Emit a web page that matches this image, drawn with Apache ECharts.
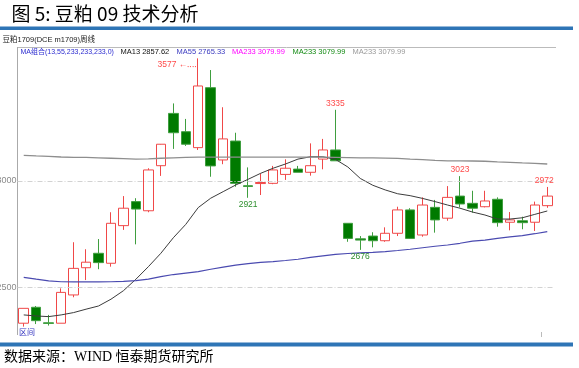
<!DOCTYPE html>
<html><head><meta charset="utf-8">
<script src="https://cdn.jsdelivr.net/npm/echarts@6/dist/echarts.min.js"></script>
<style>html,body{margin:0;padding:0;background:#fff}#c{width:579px;height:368px}</style>
</head><body><div id="c"></div>
<script>
// weekly candles: [open, close, low, high]
const opens  = [2331,2406,2333,2331,2464,2592,2660,2613,2790,2903,2860,3072,3318,3232,3157,3439,3099,3188,2978,2988,2989,3031,3056,3041,3103,3146,2801,2728,2741,2719,2754,2864,2746,2876,2825,2929,2895,2879,2914,2806,2813,2806,2884];
const closes = [2401,2343,2330,2476,2589,2618,2616,2801,2872,2868,3052,3173,3227,3173,3447,3071,3198,2989,2974,2993,3052,3060,3041,3072,3146,3095,2730,2722,2719,2754,2864,2730,2887,2817,2923,2892,2872,2906,2804,2817,2804,2887,2929];
const lows   = [2315,2327,2320,2331,2453,2534,2585,2597,2770,2702,2853,3024,3151,3165,3146,3020,3079,2973,2921,2934,2985,3005,3041,3025,3055,3095,2714,2676,2688,2714,2741,2728,2738,2757,2813,2876,2851,2876,2785,2768,2773,2765,2874];
const highs  = [2401,2412,2370,2495,2712,2679,2727,2853,2929,2919,3060,3174,3365,3292,3577,3522,3347,3227,3064,3036,3071,3102,3071,3177,3198,3335,2801,2741,2759,2782,2879,2872,2923,2911,2976,3023,2954,2954,2923,2854,2832,2903,2972];
const ma13   = [2370,2365,2362,2370,2381,2397,2412,2444,2484,2538,2597,2660,2733,2796,2875,2919,2950,2981,3008,3036,3060,3080,3103,3114,3114,3102,3066,3012,2980,2958,2940,2931,2918,2903,2887,2872,2854,2840,2821,2821,2827,2843,2859];
const ma55   = [2547,2538,2530,2526,2525,2525,2525,2526,2528,2531,2538,2550,2560,2567,2574,2585,2595,2604,2611,2617,2621,2626,2632,2641,2648,2655,2659,2662,2664,2668,2673,2679,2686,2693,2699,2707,2717,2722,2730,2737,2743,2752,2762];
const ma233  = [3121,3118,3116,3113,3111,3111,3109,3107,3105,3103,3104,3107,3109,3111,3112,3112,3112,3112,3112,3112,3112,3112,3112,3112,3112,3111,3110,3109,3109,3108,3106,3103,3101,3097,3095,3095,3094,3093,3090,3088,3085,3083,3080];
const yTickLabels = [2500, 3000];
// annotated extremes: [index, 'high'|'low']
const notes = [[14,'high'],[25,'high'],[18,'low'],[27,'low'],[35,'high'],[42,'high']];
const legendItems = [
  ['MA组合(13,55,233,233,233,0)', '#2b2bd0'],
  ['MA13 2857.62', '#111'],
  ['MA55 2765.33', '#3a3ac0'],
  ['MA233 3079.99', '#ff00ff'],
  ['MA233 3079.99', '#138a13'],
  ['MA233 3079.99', '#9a9a9a']
];
const legendX = [20.5, 120.5, 176.5, 232, 292.5, 352.5];

const cats = opens.map((_, i) => 'W' + (i + 1));
const kdata = opens.map((o, i) => [o, closes[i], lows[i], highs[i]]);

const mp = notes.map(([i, t]) => {
  const isHigh = t === 'high';
  const v = isHigh ? highs[i] : lows[i];
  const first = i === 14;
  return {
    coord: [i, v], value: v, symbol: 'circle', symbolSize: 0,
    label: {
      show: true,
      formatter: first ? v + ' ←‥‥' : String(v),
      color: isHigh ? '#ff4a4a' : '#2e8f2e',
      fontSize: 8.5, fontFamily: 'Liberation Sans',
      position: first ? 'left' : (isHigh ? 'top' : 'bottom'),
      distance: first ? 1 : 2,
      offset: first ? [0, 6] : [i === 42 ? -3 : 0, 0]
    }
  };
});

const chart = echarts.init(document.getElementById('c'), null, {renderer: 'canvas'});
const txt = (x, y, s, color, size, family, extra) => Object.assign({
  type: 'text', x: x, y: y,
  style: {text: s, fill: color, font: size + 'px ' + family, textVerticalAlign: 'middle'}
}, extra || {});

const graphics = [
  txt(11.5, 13.5, '图 5: 豆粕 09 技术分析', '#000', 19, '"Noto Sans CJK SC"'),
  {type: 'rect', shape: {x: 0, y: 26.5, width: 573, height: 3.5}, style: {fill: '#2e75b6'}},
  txt(2.5, 40, '豆粕1709(DCE m1709)周线', '#222', 7.5, '"Liberation Sans", "Noto Sans CJK SC"'),
  {type: 'line', shape: {x1: 17, y1: 47.5, x2: 556, y2: 47.5}, style: {stroke: '#bbb', lineWidth: 1}},
  {type: 'line', shape: {x1: 17.5, y1: 47, x2: 17.5, y2: 335}, style: {stroke: '#aaa', lineWidth: 1}},
  {type: 'line', shape: {x1: 541.5, y1: 332, x2: 541.5, y2: 337}, style: {stroke: '#bbb', lineWidth: 1}},
  txt(19, 332, '区间', '#3535c0', 8, '"Noto Sans CJK SC"'),
  {type: 'rect', shape: {x: 0, y: 342.5, width: 573, height: 4}, style: {fill: '#2e75b6'}},
  txt(4, 357, '数据来源：WIND 恒泰期货研究所', '#000', 14, '"Liberation Serif", "Noto Sans CJK SC"')
];
legendItems.forEach(([s, c], k) => graphics.push(txt(legendX[k], 52, s, c, k === 0 ? 7 : 7.5, '"Liberation Sans", "Noto Sans CJK SC"')));

chart.setOption({
  animation: false,
  backgroundColor: '#fff',
  grid: {left: 17.5, width: 536, top: 32.2, height: 297.6, containLabel: false, outerBoundsMode: 'none'},
  xAxis: {
    type: 'category', data: cats, boundaryGap: true,
    axisLine: {show: false}, axisTick: {show: false}, axisLabel: {show: false}, splitLine: {show: false}
  },
  yAxis: {
    type: 'value', min: 2300, max: 3700, interval: 100,
    axisLine: {show: false}, axisTick: {show: false}, splitLine: {show: false},
    axisLabel: {
      color: '#8a8a8a', fontSize: 9, fontFamily: 'Liberation Sans', margin: 1,
      formatter: v => yTickLabels.indexOf(v) >= 0 ? String(v) : ''
    }
  },
  series: [
    {
      type: 'candlestick', data: kdata, barWidth: 10, z: 3,
      itemStyle: {color: 'rgba(255,255,255,0)', color0: '#007a00', borderColor: '#f04848', borderColor0: '#3f9e3f', borderWidth: 1},
      markPoint: {data: mp, animation: false},
      markLine: {
        silent: true, symbol: 'none', label: {show: false},
        lineStyle: {color: '#d2d2d2', type: [5, 2, 1, 2], width: 1},
        data: yTickLabels.map(v => ({yAxis: v}))
      }
    },
    {type: 'line', data: ma13, symbol: 'none', z: 4, lineStyle: {color: '#3c3c3c', width: 1}},
    {type: 'line', data: ma55, symbol: 'none', z: 4, lineStyle: {color: '#4a4ab0', width: 1.2}},
    {type: 'line', data: ma233, symbol: 'none', z: 4, lineStyle: {color: '#8e8e8e', width: 1.3}}
  ],
  graphic: graphics
});
</script></body></html>
